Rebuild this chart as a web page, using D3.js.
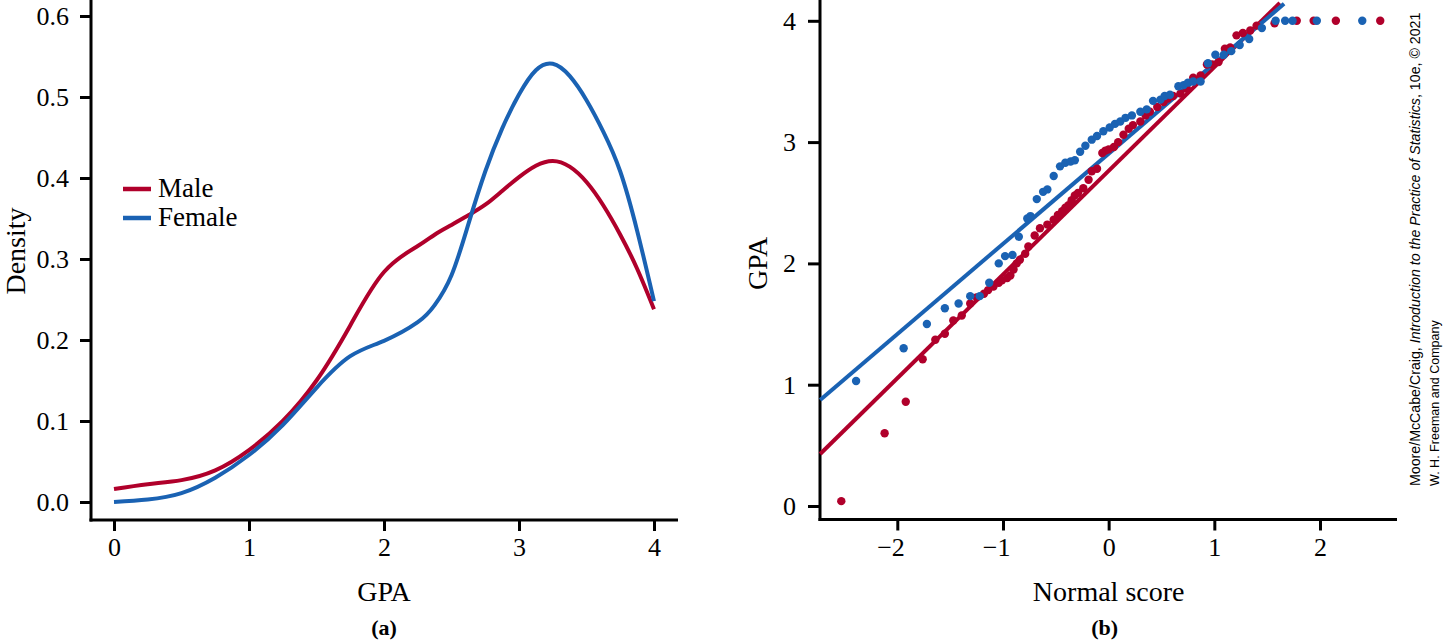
<!DOCTYPE html>
<html><head><meta charset="utf-8">
<script src="https://cdn.jsdelivr.net/npm/d3@7"></script>
<style>body{margin:0;background:#fff}svg{display:block}</style>
</head><body><svg id="c" width="1443" height="641"></svg>
<script>
const RED = "#B0002B", BLUE = "#1A62B3";

// Panel (a): density curves
const gpaGrid       = [0, 0.25, 0.5, 0.75, 1, 1.25, 1.5, 1.75, 2, 2.25, 2.375, 2.5, 2.625, 2.75, 2.875, 3, 3.125, 3.25, 3.375, 3.5, 3.625, 3.75, 3.875, 4];
const densityMale   = [0.016, 0.022, 0.027, 0.039, 0.064, 0.100, 0.150, 0.218, 0.284, 0.316, 0.330, 0.342, 0.354, 0.367, 0.384, 0.401, 0.415, 0.421, 0.414, 0.395, 0.366, 0.330, 0.288, 0.238];
const densityFemale = [0.000, 0.003, 0.011, 0.030, 0.058, 0.095, 0.141, 0.180, 0.199, 0.222, 0.243, 0.280, 0.343, 0.408, 0.461, 0.503, 0.533, 0.541, 0.526, 0.496, 0.457, 0.408, 0.335, 0.248];
const densTicksX = [0, 1, 2, 3, 4];
const densTicksY = [0, 0.1, 0.2, 0.3, 0.4, 0.5, 0.6];
const legendLabels = ["Male", "Female"];

// Panel (b): normal quantile plot
const qqFemaleScore = [-2.39,-1.94,-1.72,-1.55,-1.42,-1.31,-1.22,-1.13,-1.04,-0.98,-0.91,-0.85,-0.77,-0.74,-0.68,-0.62,-0.58,-0.52,-0.46,-0.41,-0.36,-0.32,-0.27,-0.22,-0.16,-0.11,-0.05,0.01,0.06,0.11,0.16,0.22,0.30,0.36,0.42,0.49,0.53,0.58,0.66,0.71,0.75,0.80,0.87,0.94,1.01,1.09,1.16,1.24,1.33,1.45,1.58,1.67,1.74,1.97,2.40];
const qqFemaleGPA   = [1.03,1.30,1.50,1.63,1.67,1.73,1.73,1.84,2.00,2.06,2.07,2.22,2.37,2.39,2.53,2.59,2.61,2.72,2.80,2.83,2.84,2.85,2.92,2.97,3.02,3.05,3.09,3.12,3.15,3.17,3.20,3.22,3.25,3.27,3.34,3.35,3.38,3.39,3.46,3.47,3.49,3.50,3.50,3.65,3.72,3.72,3.75,3.80,3.85,3.94,4.00,4.00,4.00,4.00,4.00];
const qqMaleScore = [-2.53,-2.12,-1.92,-1.76,-1.64,-1.55,-1.47,-1.39,-1.31,-1.25,-1.18,-1.14,-1.09,-1.04,-1.01,-0.96,-0.93,-0.90,-0.87,-0.84,-0.79,-0.76,-0.70,-0.65,-0.58,-0.52,-0.48,-0.44,-0.41,-0.38,-0.35,-0.32,-0.29,-0.24,-0.19,-0.16,-0.11,-0.06,-0.03,0.00,0.05,0.09,0.14,0.19,0.23,0.30,0.35,0.39,0.46,0.52,0.56,0.61,0.68,0.74,0.80,0.87,0.93,0.98,1.04,1.10,1.15,1.21,1.27,1.34,1.40,1.57,1.78,1.94,2.15,2.57];
const qqMaleGPA   = [0.04,0.60,0.86,1.21,1.37,1.42,1.53,1.57,1.67,1.72,1.75,1.78,1.81,1.84,1.86,1.88,1.90,1.95,2.00,2.03,2.08,2.14,2.23,2.29,2.32,2.36,2.40,2.43,2.46,2.48,2.52,2.56,2.58,2.62,2.69,2.76,2.78,2.91,2.93,2.94,2.96,3.00,3.06,3.11,3.14,3.17,3.22,3.25,3.29,3.33,3.36,3.38,3.40,3.44,3.53,3.55,3.64,3.64,3.66,3.77,3.78,3.88,3.90,3.92,3.96,3.98,4.00,4.00,4.00,4.00];
const fitMale   = {intercept: 2.763, slope: 0.855, from: -2.73, to: 1.62};
const fitFemale = {intercept: 2.905, slope: 0.744, from: -2.73, to: 1.66};
const qqTicksX = [-2, -1, 0, 1, 2];
const qqTicksY = [0, 1, 2, 3, 4];

const svg = d3.select("#c");
const SERIF = "'Liberation Serif', 'Times New Roman', serif";
const TICK_FS = 26, TITLE_FS = 28;

// ---------- Panel (a) ----------
const xA = d3.scaleLinear().domain([0, 4]).range([114, 654]);
const yA = d3.scaleLinear().domain([0, 0.6]).range([502, 16]);
const axisAX = 91, axisAY = 520;

function styleAxis(g) {
  g.select(".domain").remove();
  g.selectAll(".tick line").attr("stroke", "#000").attr("stroke-width", 3);
  g.selectAll(".tick text").attr("font-family", SERIF).attr("font-size", TICK_FS).attr("fill", "#000");
}

svg.append("g").attr("transform", `translate(${axisAX},0)`)
  .call(d3.axisLeft(yA).tickValues(densTicksY).tickFormat(d3.format(".1f")).tickSize(11).tickPadding(11))
  .call(styleAxis);
svg.append("g").attr("transform", `translate(0,${axisAY})`)
  .call(d3.axisBottom(xA).tickValues(densTicksX).tickFormat(d3.format("d")).tickSize(11).tickPadding(7))
  .call(styleAxis);
svg.append("line").attr("x1", axisAX).attr("x2", axisAX).attr("y1", 0).attr("y2", axisAY + 1.5)
  .attr("stroke", "#000").attr("stroke-width", 3);
svg.append("line").attr("x1", axisAX - 1.5).attr("x2", 678).attr("y1", axisAY).attr("y2", axisAY)
  .attr("stroke", "#000").attr("stroke-width", 3);

const lineA = d3.line().x(d => xA(d[0])).y(d => yA(d[1])).curve(d3.curveNatural);
[[densityMale, RED], [densityFemale, BLUE]].forEach(([vals, col]) => {
  svg.append("path").attr("d", lineA(gpaGrid.map((g, i) => [g, vals[i]])))
    .attr("fill", "none").attr("stroke", col).attr("stroke-width", 4);
});

// legend
legendLabels.forEach((lab, i) => {
  const y = 189 + i * 29;
  svg.append("line").attr("x1", 123).attr("x2", 151).attr("y1", y).attr("y2", y)
    .attr("stroke", i === 0 ? RED : BLUE).attr("stroke-width", 4.5);
  svg.append("text").attr("x", 158).attr("y", y + 8).text(lab)
    .attr("font-family", SERIF).attr("font-size", 27).attr("fill", "#000");
});

svg.append("text").attr("x", xA(2)).attr("y", 601).attr("text-anchor", "middle")
  .attr("font-family", SERIF).attr("font-size", TITLE_FS).text("GPA");
svg.append("text").attr("transform", `translate(25,${(yA(0) + yA(0.6)) / 2 - 8}) rotate(-90)`)
  .attr("text-anchor", "middle").attr("font-family", SERIF).attr("font-size", TITLE_FS).text("Density");
svg.append("text").attr("x", xA(2)).attr("y", 635).attr("text-anchor", "middle")
  .attr("font-family", SERIF).attr("font-size", 22).attr("font-weight", "bold").text("(a)");

// ---------- Panel (b) ----------
const xB = d3.scaleLinear().domain([-2, 2]).range([897.3, 1320]);
const yB = d3.scaleLinear().domain([0, 4]).range([506, 20.8]);
const axisBX = 820, axisBY = 519.5;

svg.append("g").attr("transform", `translate(${axisBX},0)`)
  .call(d3.axisLeft(yB).tickValues(qqTicksY).tickFormat(d3.format("d")).tickSize(12).tickPadding(12))
  .call(styleAxis);
const gx = svg.append("g").attr("transform", `translate(0,${axisBY})`)
  .call(d3.axisBottom(xB).tickValues(qqTicksX).tickFormat(d => d < 0 ? "\u2212" + Math.abs(d) : String(d)).tickSize(11).tickPadding(7))
  .call(styleAxis);
gx.selectAll(".tick text").filter(d => d < 0).attr("text-anchor", "end").attr("x", 7);

svg.append("line").attr("x1", axisBX).attr("x2", axisBX).attr("y1", 0).attr("y2", axisBY + 1.5)
  .attr("stroke", "#000").attr("stroke-width", 3);
svg.append("line").attr("x1", axisBX - 1.5).attr("x2", 1397).attr("y1", axisBY).attr("y2", axisBY)
  .attr("stroke", "#000").attr("stroke-width", 3);

// fitted lines
[[fitMale, RED], [fitFemale, BLUE]].forEach(([f, col]) => {
  svg.append("line")
    .attr("x1", xB(f.from)).attr("y1", yB(f.intercept + f.slope * f.from))
    .attr("x2", xB(f.to)).attr("y2", yB(f.intercept + f.slope * f.to))
    .attr("stroke", col).attr("stroke-width", 4);
});

// points
function dots(xs, ys, col) {
  svg.append("g").selectAll("circle").data(xs.map((x, i) => [x, ys[i]])).join("circle")
    .attr("cx", d => xB(d[0])).attr("cy", d => yB(d[1])).attr("r", 4.2).attr("fill", col);
}
dots(qqMaleScore, qqMaleGPA, RED);
dots(qqFemaleScore, qqFemaleGPA, BLUE);

svg.append("text").attr("x", xB(0)).attr("y", 601).attr("text-anchor", "middle")
  .attr("font-family", SERIF).attr("font-size", TITLE_FS).text("Normal score");
svg.append("text").attr("transform", `translate(767,${yB(2)}) rotate(-90)`)
  .attr("text-anchor", "middle").attr("font-family", SERIF).attr("font-size", TITLE_FS).text("GPA");
svg.append("text").attr("x", xB(0) - 4).attr("y", 635).attr("text-anchor", "middle")
  .attr("font-family", SERIF).attr("font-size", 22).attr("font-weight", "bold").text("(b)");

// credit (font size fitted so the natural length matches the target length)
const SANS = "'Liberation Sans Narrow', 'Liberation Sans', 'DejaVu Sans Condensed', sans-serif";
function fitText(sel, target, baseSize) {
  sel.attr("font-size", baseSize);
  const len = sel.node().getComputedTextLength();
  sel.attr("font-size", Math.min(baseSize * target / len, 18));
}
const c1 = svg.append("text").attr("transform", "translate(1420,486) rotate(-90)")
  .attr("font-family", SANS);
c1.append("tspan").text("Moore/McCabe/Craig, ");
c1.append("tspan").attr("font-style", "italic").text("Introduction to the Practice of Statistics");
c1.append("tspan").text(", 10e, \u00A9 2021");
fitText(c1, 474, 17);
const c2 = svg.append("text").attr("transform", "translate(1439,486) rotate(-90)")
  .attr("font-family", SANS).text("W. H. Freeman and Company");
fitText(c2, 166, 17);
</script></body></html>
